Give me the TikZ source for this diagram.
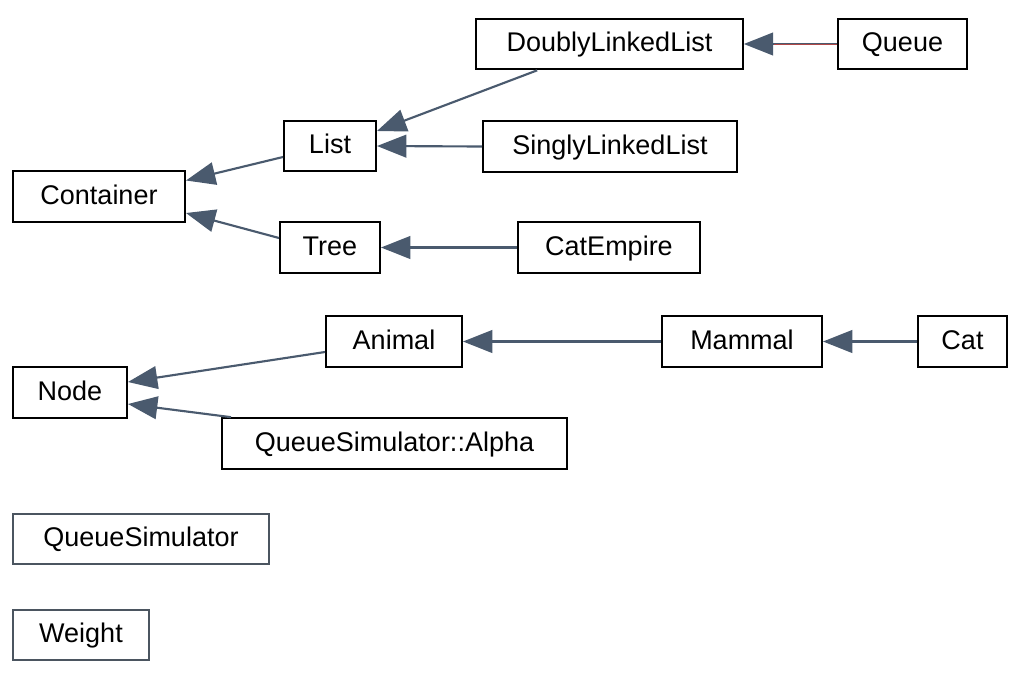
\documentclass[tikz,border=0pt]{standalone}
\usepackage{fontspec}
\setmainfont{Liberation Sans}
\usetikzlibrary{arrows.meta,calc}
\definecolor{edgec}{HTML}{4A5A6E}
\definecolor{grayb}{HTML}{4B5560}
\definecolor{redc}{HTML}{B04848}
\begin{document}
\begin{tikzpicture}[x=0.75pt,y=-0.75pt,
  box/.style={draw=black,line width=1.5pt,fill=white,minimum height=38pt,inner sep=0pt,
    text height=14.5pt,text depth=2.9pt,
    font=\fontsize{20.25}{24}\selectfont},
  gbox/.style={box,draw=grayb},
  inh/.style={edgec,line width=1.6pt,-{Triangle[length=22pt,width=17pt]}},
]
\useasboundingbox (0,0) rectangle (1022,672);
\node[box,minimum width=200pt] (dll) at (609.5,44) {DoublyLinkedList};
\node[box,minimum width=96.75pt] (queue) at (902.5,44) {Queue};
\node[box,minimum width=69pt] (list) at (330,146) {List};
\node[box,minimum width=190.5pt] (sll) at (610,146.5) {SinglyLinkedList};
\node[box,minimum width=129pt] (container) at (99,196.5) {Container};
\node[box,minimum width=75pt] (tree) at (330,247.5) {Tree};
\node[box,minimum width=136.5pt] (catempire) at (609,247.5) {CatEmpire};
\node[box,minimum width=102pt] (animal) at (394,341.5) {Animal};
\node[box,minimum width=120pt] (mammal) at (742,341.5) {Mammal};
\node[box,minimum width=66.75pt] (cat) at (962.5,341.5) {Cat};
\node[box,minimum width=85.5pt] (node) at (70,392.5) {Node};
\node[box,minimum width=258.75pt] (alpha) at (394.5,443.5) {QueueSimulator::Alpha};
\node[gbox,minimum width=192pt] (qsim) at (141,539) {QueueSimulator};
\node[gbox,minimum width=102pt] (weight) at (81,635) {Weight};

\draw[inh] (queue.west) -- (dll.east);
\draw[redc,line width=0.6pt] (queue.west) -- ($(dll.east)+(30,0)$);
\draw[inh] ($(dll.south west)+(62,0)$) -- ($(list.east)+(0,-15)$);
\draw[inh] (sll.west) -- (list.east);
\draw[inh] ($(list.west)+(0,11)$) -- ($(container.east)+(0,-16)$);
\draw[inh] ($(tree.west)+(0,-9.5)$) -- ($(container.east)+(0,16.5)$);
\draw[inh] (catempire.west) -- (tree.east);
\draw[inh] (mammal.west) -- (animal.east);
\draw[inh] (cat.west) -- (mammal.east);
\draw[inh] ($(animal.west)+(0,10.5)$) -- ($(node.east)+(0,-10.5)$);
\draw[inh] ($(alpha.north west)+(10,0)$) -- ($(node.east)+(0,11.5)$);
\end{tikzpicture}
\end{document}
